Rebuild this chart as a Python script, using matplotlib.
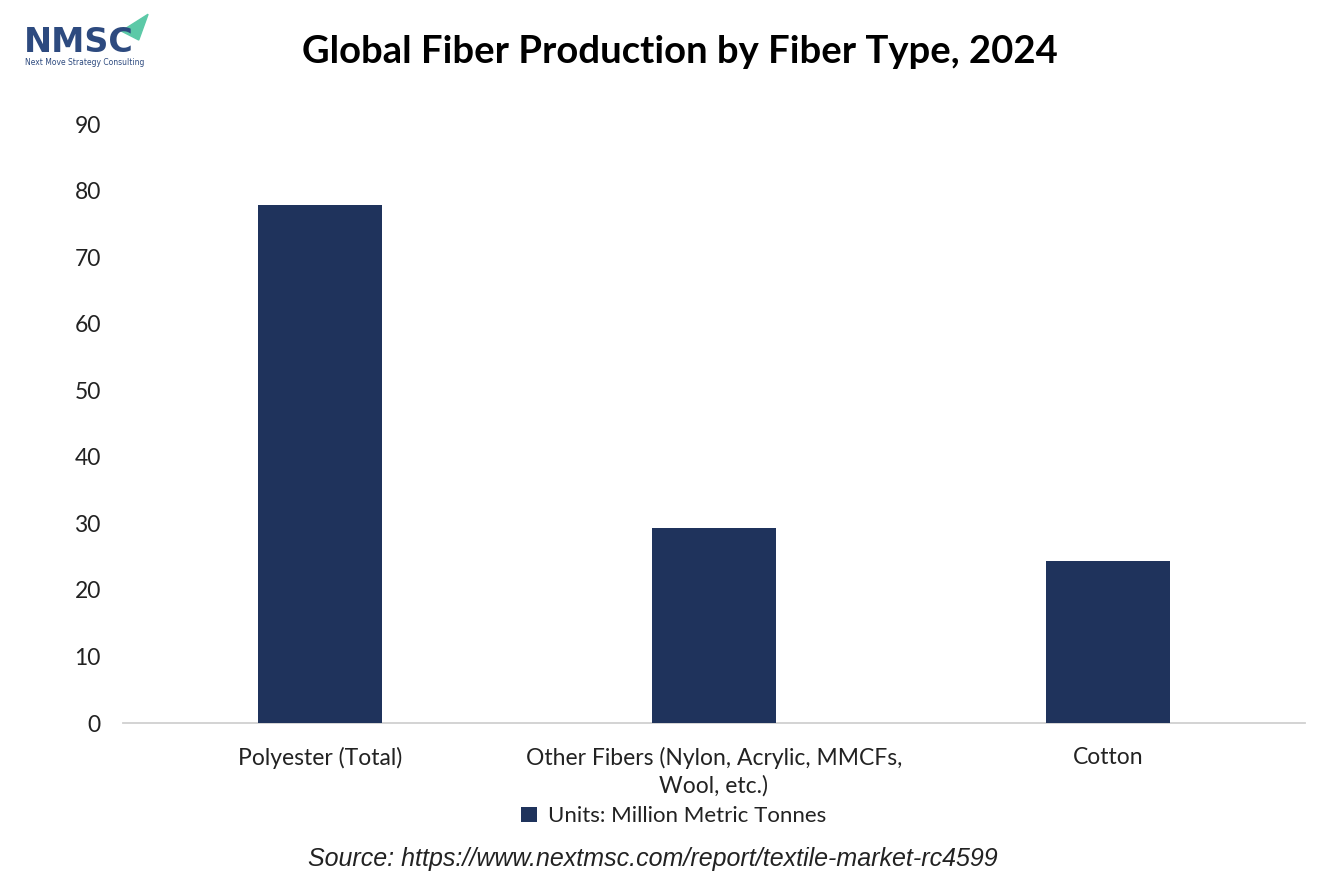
import numpy as np
import matplotlib.pyplot as plt
from matplotlib.patches import Polygon

categories = ['Polyester (Total)', 'Other Fibers (Nylon, Acrylic, MMCFs,\nWool, etc.)', 'Cotton']
values = [77.8, 29.3, 24.3]
series_name = 'Units: Million Metric Tonnes'
title = 'Global Fiber Production by Fiber Type, 2024'
source = 'Source: https://www.nextmsc.com/report/textile-market-rc4599'

navy = '#1f335c'
plt.rcParams['font.family'] = ['Lato', 'DejaVu Sans']

fig = plt.figure(figsize=(13.34, 8.89), dpi=100)
ax = fig.add_axes([0.0922, 0.1867, 0.8858, 0.6738])

x = np.arange(len(categories))
ax.bar(x, values, width=0.315, color=navy, label=series_name, zorder=3)
ax.set_xlim(-0.5, len(categories) - 0.5)
ax.set_ylim(0, 90)
ax.set_yticks(range(0, 91, 10))
ax.set_xticks(x)
ax.set_xticklabels(categories, fontsize=16.5, color='#222222', linespacing=1.35)
ax.tick_params(axis='y', labelsize=16.5, colors='#222222', length=0, pad=16)
ax.tick_params(axis='x', length=0, pad=17)
for s in ['top', 'right', 'left']:
    ax.spines[s].set_visible(False)
ax.spines['bottom'].set_color('#d0d0d0')
ax.spines['bottom'].set_linewidth(1.3)

leg = fig.legend(loc='center', bbox_to_anchor=(0.505, 0.082), frameon=False,
                 fontsize=16, handlelength=0.7, handleheight=0.7, handletextpad=0.5)
for t in leg.get_texts():
    t.set_color('#222222')

fig.text(0.51, 0.941, title, ha='center', va='center', fontsize=27.5, fontweight='bold', color='black')
fig.text(0.489, 0.034, source, ha='center', va='center', fontsize=18, style='italic',
         family='Liberation Sans', color='#222222')

# logo
fig.text(0.018, 0.952, 'NMSC', ha='left', va='center', fontsize=24, fontweight='bold',
         color='#2d4a7f', family='DejaVu Sans')
fig.text(0.019, 0.930, 'Next Move Strategy Consulting', ha='left', va='center', fontsize=5.5,
         color='#2d4a7f', family='DejaVu Sans')
tri = Polygon([[0.091, 0.965], [0.111, 0.984], [0.104, 0.955]], closed=True,
              transform=fig.transFigure, color='#5cc9a7')
fig.patches.append(tri)

fig.savefig('out.png', dpi=100)
